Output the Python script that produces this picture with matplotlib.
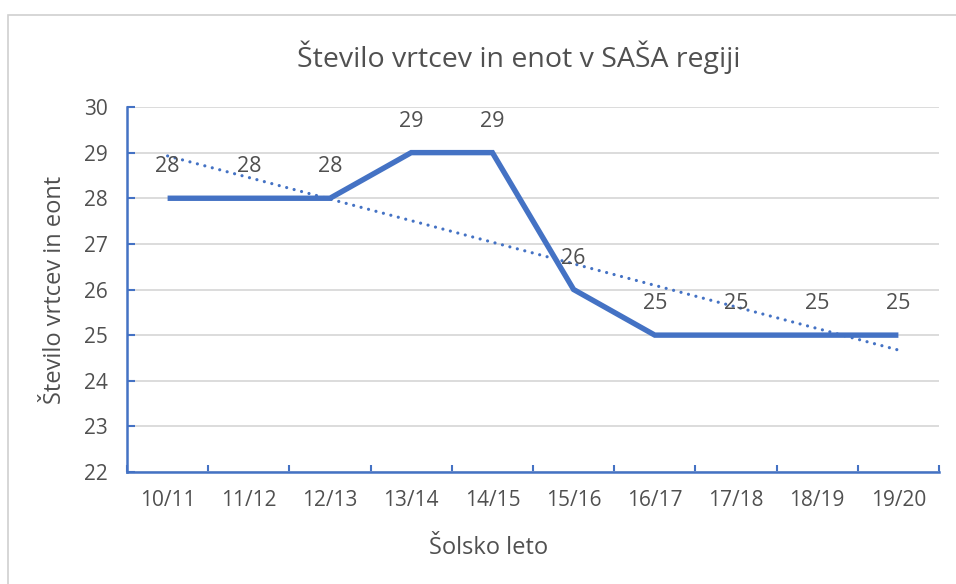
import matplotlib
matplotlib.use("Agg")
import matplotlib.pyplot as plt
import numpy as np
from matplotlib.patches import Rectangle

categories = ["10/11", "11/12", "12/13", "13/14", "14/15", "15/16", "16/17", "17/18", "18/19", "19/20"]
values = [28, 28, 28, 29, 29, 26, 25, 25, 25, 25]
yticks = [22, 23, 24, 25, 26, 27, 28, 29, 30]

title = "Število vrtcev in enot v SAŠA regiji"
xlabel = "Šolsko leto"
ylabel = "Število vrtcev in eont"

BLUE = "#4472C4"
GRAY = "#505050"
GRID = "#d9d9d9"
FONT = ["Open Sans", "DejaVu Sans"]
plt.rcParams["font.family"] = FONT

W, H = 956, 584
fig = plt.figure(figsize=(W / 100, H / 100), dpi=100)
fig.patch.set_facecolor("white")

# outer chart border (cropped at right and bottom)
fig.add_artist(Rectangle((8 / W, -0.05), 1.2, (H - 15) / H + 0.05, transform=fig.transFigure,
                         fill=False, edgecolor="#d0d0d0", linewidth=1.2))

left, right, top, bottom = 127, 939, 107, 472
ax = fig.add_axes([left / W, 1 - bottom / H, (right - left) / W, (bottom - top) / H])

x = np.arange(len(categories))
ax.set_xlim(-0.5, len(categories) - 0.5)
ax.set_ylim(yticks[0], yticks[-1])

ax.yaxis.grid(True, color=GRID, linewidth=1.3)
ax.set_axisbelow(True)

# trend line (linear fit of the data)
coef = np.polyfit(x, values, 1)
ax.plot(x, np.polyval(coef, x), linestyle=(0, (0.01, 2.4)), color=BLUE, linewidth=2.3,
        dash_capstyle="round")
ax.plot(x, values, color=BLUE, linewidth=3.9, solid_capstyle="butt", solid_joinstyle="miter")

for xi, v in zip(x, values):
    ax.annotate(str(v), (xi, v), xytext=(0, 22.5), textcoords="offset points",
                ha="center", va="center", fontsize=15.5, color=GRAY)

for s in ["top", "right"]:
    ax.spines[s].set_visible(False)
for s in ["left", "bottom"]:
    ax.spines[s].set_color(BLUE)
    ax.spines[s].set_linewidth(1.8)

ax.set_yticks(yticks)
ax.set_yticklabels([str(t) for t in yticks])
ax.set_xticks(x)
ax.set_xticklabels(categories)
ax.set_xticks(np.arange(len(categories) + 1) - 0.5, minor=True)
ax.tick_params(axis="x", which="major", length=0, pad=13, labelsize=15, labelcolor=GRAY)
ax.tick_params(axis="x", which="minor", direction="in", length=5, width=1.5, color=BLUE)
ax.tick_params(axis="y", direction="in", length=6, width=1.5, color=BLUE, pad=14,
               labelsize=15, labelcolor=GRAY)

fig.text(519 / W, 1 - 57 / H, title, ha="center", va="center",
         fontsize=20.5, color=GRAY)
fig.text(489 / W, 1 - 548 / H, xlabel, ha="center", va="center",
         fontsize=17, color=GRAY)
fig.text(55 / W, 1 - 290 / H, ylabel, ha="center", va="center", rotation=90,
         fontsize=17, color=GRAY)

fig.savefig("out.png", dpi=100, facecolor="white")
